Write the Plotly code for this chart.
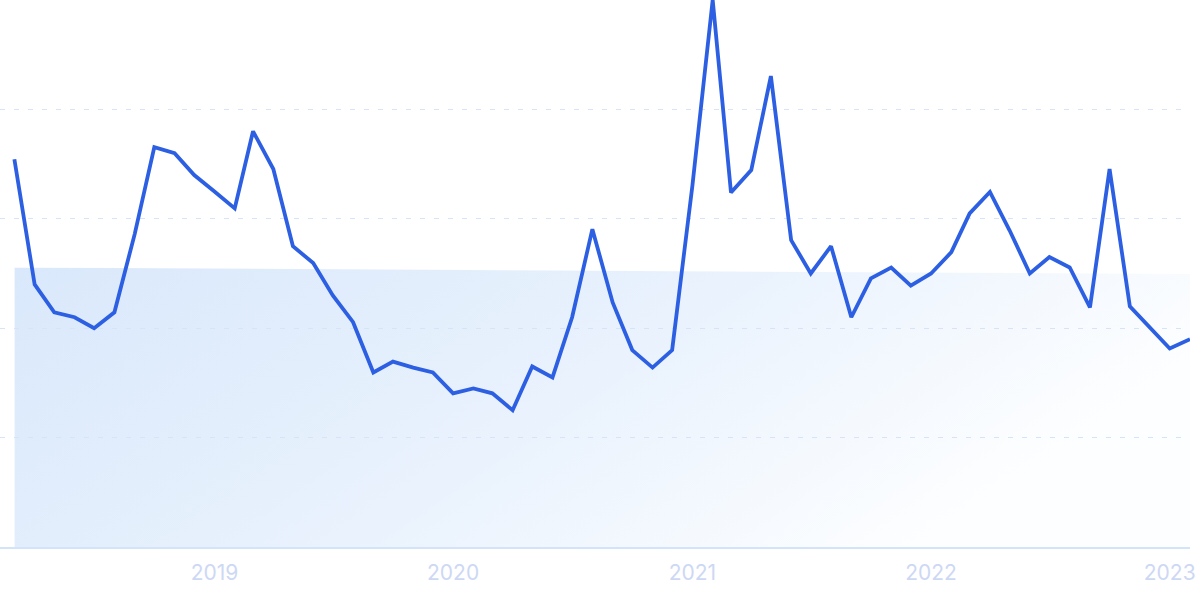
import base64
import pandas as pd
import plotly.graph_objects as go

# ---- data ----
start_month = "2018-03-01"
values = [
    70.9, 48.0, 42.9, 42.0, 40.0, 42.9, 57.2, 73.1, 72.0, 68.0,
    65.0, 61.9, 76.0, 69.1, 55.0, 51.9, 46.0, 41.1, 31.9, 33.9,
    32.8, 31.9, 28.1, 29.0, 28.1, 25.0, 33.0, 31.0, 42.0, 58.1,
    44.7, 36.0, 32.8, 36.0, 66.1, 100.0, 64.8, 68.9, 86.1, 56.1,
    50.0, 55.0, 42.0, 49.1, 51.1, 47.8, 50.0, 53.9, 61.0, 64.9,
    57.9, 50.0, 53.0, 51.1, 43.8, 69.1, 44.0, 40.1, 36.3, 38.0,
]
trend_start = 51.1   # level of shaded band at the first month
trend_end = 49.9     # level of shaded band at the last month
tick_years = ["2019", "2020", "2021", "2022", "2023"]

dates = pd.date_range(start_month, periods=len(values), freq="MS")

# ---- gradient band as an SVG image stretched over the data span ----
drop = (trend_start - trend_end) / trend_start * 100
svg = (
    "<svg xmlns='http://www.w3.org/2000/svg' viewBox='0 0 100 100' preserveAspectRatio='none'>"
    "<defs><linearGradient id='g' x1='0' y1='0' x2='1' y2='0.35'>"
    "<stop offset='0' stop-color='#d9e8fb'/>"
    "<stop offset='0.55' stop-color='#e9f2fd'/>"
    "<stop offset='1' stop-color='#fdfeff'/>"
    "</linearGradient></defs>"
    f"<polygon points='0,0 100,{drop:.3f} 100,100 0,100' fill='url(#g)'/></svg>"
)
src = "data:image/svg+xml;base64," + base64.b64encode(svg.encode()).decode()
span_ms = (dates[-1] - dates[0]).total_seconds() * 1000

fig = go.Figure()
fig.add_trace(go.Scatter(
    x=dates, y=values, mode="lines",
    line=dict(color="#2d5fe3", width=3.8),
    hoverinfo="skip", showlegend=False,
))

fig.add_layout_image(dict(
    source=src, xref="x", yref="y",
    x=dates[0], y=trend_start, sizex=span_ms, sizey=trend_start,
    xanchor="left", yanchor="top", sizing="stretch", layer="below",
))

fig.update_layout(
    width=1200, height=599,
    margin=dict(l=0, r=10, t=0, b=52),
    paper_bgcolor="white", plot_bgcolor="rgba(0,0,0,0)",
    font=dict(family="Inter", size=21, color="#cdd8f4"),
    showlegend=False,
)
fig.update_xaxes(
    range=["2018-02-07", dates[-1]],
    tickvals=[pd.Timestamp(y + "-01-01") for y in tick_years],
    ticktext=tick_years,
    showgrid=False, zeroline=False,
    showline=True, linecolor="#d3e4fa", linewidth=1.5,
    ticks="", tickfont=dict(size=21, color="#cdd8f4"),
    ticklabelstandoff=6,
)
fig.update_yaxes(
    range=[0, 100], dtick=20, showticklabels=False,
    showgrid=True, gridcolor="#d6e3f9", gridwidth=1, griddash="5px,9px",
    zeroline=False, showline=False, ticks="",
)

fig.write_html(
    "out.html",
    config={"displayModeBar": False},
    post_script="document.body.style.margin='0';document.body.style.overflow='hidden';",
)
